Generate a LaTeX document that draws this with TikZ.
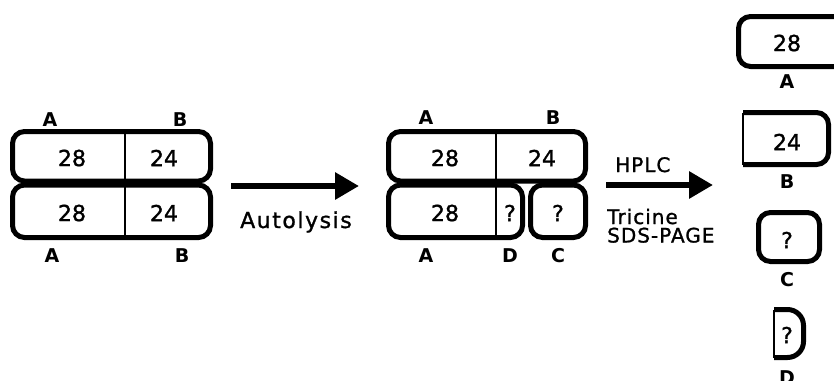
\documentclass[tikz,border=0pt]{standalone}
\usepackage{fontspec}
\setmainfont{DejaVu Sans}
\newfontfamily\numfont[FakeBold=1.5]{DejaVu Sans}
\newfontfamily\wordfont[LetterSpace=5,FakeBold=1.2]{DejaVu Sans}
\newfontfamily\widewordfont[LetterSpace=7,FakeBold=1.2]{DejaVu Sans}
\usetikzlibrary{arrows.meta}
\tikzset{
  band/.style={line width=5pt, rounded corners=12pt},
  split/.style={line width=1.5pt},
  num/.style={font=\numfont\fontsize{22}{22}\selectfont, inner sep=0pt},
  lbl/.style={font=\bfseries\fontsize{19}{19}\selectfont, inner sep=0pt},
  word/.style={font=\wordfont\fontsize{20}{20}\selectfont, inner sep=0pt, anchor=base west},
  flow/.style={line width=6pt, -{Triangle[length=24pt,width=26pt]}}
}
\begin{document}
\begin{tikzpicture}[x=1pt,y=-1pt]
\useasboundingbox (0,0) rectangle (834,380);

% ---- intact dimer: two chains A|B ----
\draw[band] (12.5,131.5) rectangle (210.5,181);
\draw[band] (12.5,185) rectangle (210.5,237.5);
\draw[split] (125,131.5) -- (125,237.5);
\node[num] (l28t) at (72,158) {28};
\node[num] (l24t) at (164,158) {24};
\node[num] (l28b) at (72,213) {28};
\node[num] (l24b) at (164,213) {24};
\node[lbl] (lAt) at (50,119.5) {A};
\node[lbl] (lBt) at (180,119.5) {B};
\node[lbl] (lAb) at (52,256) {A};
\node[lbl] (lBb) at (182,256) {B};

% ---- autolysis arrow ----
\coordinate (f1s) at (231,186);
\coordinate (f1e) at (359,186);
\draw[flow] (f1s) -- (f1e);
\node[word, font=\widewordfont\fontsize{22}{22}\selectfont] (auto) at (240,228) {Autolysis};

% ---- cleaved dimer: A|B over A|D + C ----
\draw[band] (388.5,131.5) rectangle (585.5,181);
\draw[band] (388.5,185) rectangle (522.5,237.5);
\draw[band] (530.5,185) rectangle (585.5,237.5);
\draw[split] (496,131.5) -- (496,237.5);
\node[num] (m28t) at (445,158) {28};
\node[num] (m24t) at (542,158) {24};
\node[num] (m28b) at (445,213) {28};
\node[num] (mqd) at (510,213) {?};
\node[num] (mqc) at (558,213) {?};
\node[lbl] (mAt) at (426,118) {A};
\node[lbl] (mBt) at (553,118) {B};
\node[lbl] (mAb) at (426,256) {A};
\node[lbl] (mDb) at (510,256) {D};
\node[lbl] (mCb) at (558,256) {C};

% ---- separation arrow ----
\coordinate (f2s) at (606,185);
\coordinate (f2e) at (713,185);
\draw[flow] (f2s) -- (f2e);
\node[word] (hplc) at (615,172) {HPLC};
\node[word] (tric) at (607,224) {Tricine};
\node[word] (sds) at (607,242.5) {SDS-PAGE};

% ---- separated fragments ----
\draw[band] (738.5,16.5) rectangle (870,66.5);
\node[num] (r28) at (787,43) {28};
\node[lbl] (rA) at (787,82) {A};

\draw[band] (743,112.5) -- (828.5,112.5) -- (828.5,164.5) -- (743,164.5);
\draw[split] (743,112.5) -- (743,164.5);
\node[num] (r24) at (787,142) {24};
\node[lbl] (rB) at (787,182) {B};

\draw[band] (758.5,212.5) rectangle (819.5,261.5);
\node[num] (rqc) at (787,240) {?};
\node[lbl] (rC) at (787,280) {C};

\draw[band, rounded corners=16pt] (774,309.5) -- (803.5,309.5) -- (803.5,357.5) -- (774,357.5);
\draw[split] (774,309.5) -- (774,357.5);
\node[num] (rqd) at (787,335) {?};
\node[lbl] (rD) at (787,378) {D};
\end{tikzpicture}
\end{document}
